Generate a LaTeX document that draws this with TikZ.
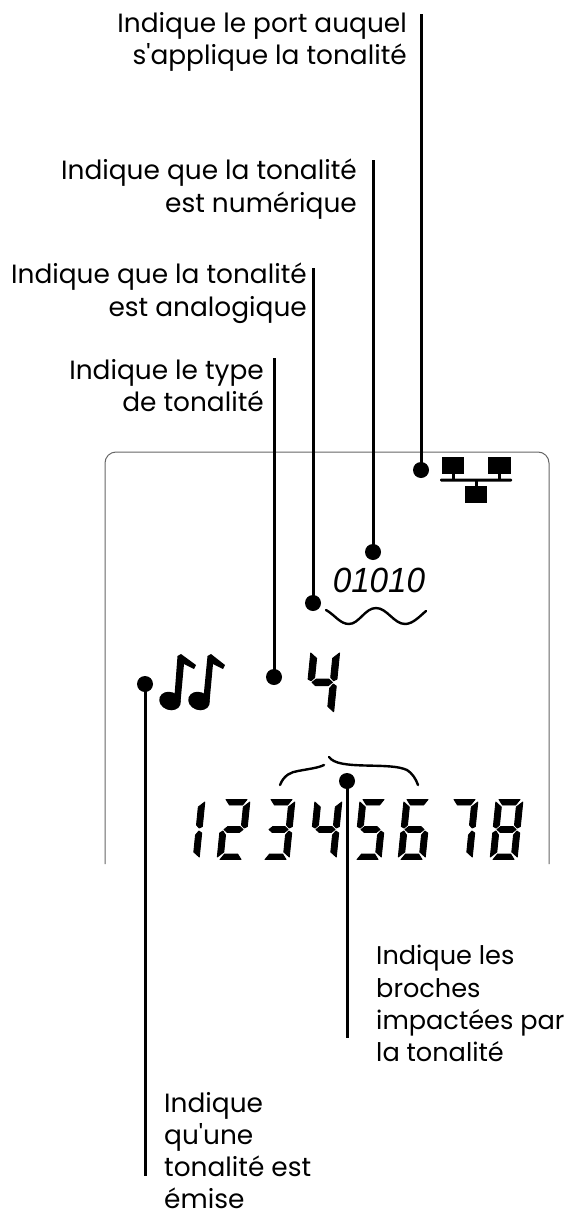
\documentclass[tikz,border=0pt]{standalone}
\usepackage{fontspec}
\setmainfont{Poppins}[Ligatures=TeXOff]
\newfontfamily\digitfont{Liberation Sans}
\newcommand{\SegA}{\filldraw (3,60.5)--(24,60.5)--(20,55)--(7,55)--cycle;}
\newcommand{\SegB}{\filldraw (27,58)--(21,53)--(21,35)--(24,32)--(27,33.5)--cycle;}
\newcommand{\SegC}{\filldraw (27,3)--(21,8)--(21,25)--(24,29)--(27,27)--cycle;}
\newcommand{\SegD}{\filldraw (3,0.5)--(24,0.5)--(20,6)--(7,6)--cycle;}
\newcommand{\SegE}{\filldraw (0,3)--(6,8)--(6,25)--(3,29)--(0,27)--cycle;}
\newcommand{\SegF}{\filldraw (0,58)--(6,53)--(6,35)--(3,32)--(0,33.5)--cycle;}
\newcommand{\SegG}{\filldraw (4,30.5)--(7.5,33.5)--(19.5,33.5)--(23,30.5)--(19.5,27.5)--(7.5,27.5)--cycle;}
\newcommand{\lcddigit}[4]{\begin{scope}[shift={(#1,#2)},x=#3pt,y=#3pt,xslant=0.1,line width=0.9pt,line join=round]#4\end{scope}}
\tikzset{
  label text/.style={font=\fontsize{26.4}{32.6}\selectfont,inner sep=0pt,text=black},
  right label/.style={label text,align=right,anchor=north east},
  left label/.style={label text,align=left,anchor=north west},
  dot/.style={circle,fill=black,inner sep=0pt,minimum size=16pt},
  leader/.style={draw=black,line width=3pt},
  frame/.style={draw=black!60,line width=1pt},
}
\begin{document}
\begin{tikzpicture}[x=1pt,y=-1pt]
\useasboundingbox (0,0) rectangle (565,1209);
% labels
\node[right label] (t1) at (407,12) {Indique le port auquel\\s'applique la tonalité};
\node[right label] (t2) at (357,159) {Indique que la tonalité\\est numérique};
\node[right label] (t3) at (307,263) {Indique que la tonalité\\est analogique};
\node[right label] (t4) at (264,359) {Indique le type\\de tonalité};
\node[left label,font=\fontsize{25.6}{32.4}\selectfont] (t5) at (376,945) {Indique les\\broches\\impactées par\\la tonalité};
\node[left label,font=\fontsize{26.4}{32.2}\selectfont] (t6) at (164,1092) {Indique\\qu'une\\tonalité est\\émise};
% frame
\draw[frame,rounded corners=11pt] (105,864)--(105,452)--(549,452)--(549,864);
% dots
\node[dot] (d1) at (421,470) {};
\node[dot] (d2) at (373,552) {};
\node[dot] (d3) at (313,603) {};
\node[dot] (d4) at (274,677) {};
\node[dot] (d5) at (145,684) {};
\node[dot] (d6) at (347,781) {};
\coordinate (e1) at (421,14);
\coordinate (e2) at (373,160);
\coordinate (e3) at (313,268);
\coordinate (e4) at (274,358);
\coordinate (e5) at (145,1176);
\coordinate (e6) at (347,1038);
\draw[leader] (d1.center)--(e1);
\draw[leader] (d2.center)--(e2);
\draw[leader] (d3.center)--(e3);
\draw[leader] (d4.center)--(e4);
\draw[leader] (d5.center)--(e5);
\draw[leader] (d6.center)--(e6);
% network icon
\fill (442,457) rectangle (464,474);
\fill (488,457) rectangle (511,474);
\fill (465,486) rectangle (487,503);
\fill[rounded corners=1pt] (440,478.7) rectangle (512,481.5);
\fill (452,474) rectangle (454.6,480);
\fill (498,474) rectangle (500.6,480);
\fill (475,480) rectangle (477.6,486);
% 01010 and wave
\node[font=\digitfont\itshape\fontsize{35}{35}\selectfont,inner sep=0pt,xscale=0.95] (bits) at (379,580) {01010};
\draw[line width=2.4pt,line cap=round] (326,610) .. controls (335,615) and (340,624) .. (349,624) .. controls (359,624) and (365,608) .. (376,608) .. controls (387,608) and (394,624) .. (405,624) .. controls (413,624) and (420,616) .. (426,611);
% notes
\fill[rotate around={-20:(170,701)}] (170,701) ellipse (11 and 9);
\fill (174,702)--(177.5,656)--(181,654)--(196,665)--(194,669)--(184,664)--(180.5,702)--cycle;
\fill[rotate around={-20:(199,701)}] (199,701) ellipse (11 and 9);
\fill (203,702)--(207.5,656)--(211,654)--(225,665)--(223,669)--(213,664)--(209.5,702)--cycle;
% big 4
\lcddigit{304.5}{715}{1.07}{\SegF\SegB\SegG\SegC}
% lower digits
\lcddigit{172}{860}{1}{\SegB\SegC}
\lcddigit{217}{860}{1}{\SegA\SegB\SegG\SegE\SegD}
\lcddigit{262}{860}{1}{\SegA\SegB\SegG\SegC\SegD}
\lcddigit{309}{860}{1}{\SegF\SegB\SegG\SegC}
\lcddigit{354}{860}{1}{\SegA\SegF\SegG\SegC\SegD}
\lcddigit{398}{860}{1}{\SegA\SegF\SegG\SegE\SegC\SegD}
\lcddigit{445}{860}{1}{\SegA\SegB\SegC}
\lcddigit{490}{860}{1}{\SegA\SegB\SegC\SegD\SegE\SegF\SegG}
% brace
\draw[line width=2.4pt,line cap=round] (280,785) .. controls (284,775) and (291,772) .. (298,771) .. controls (308,769) and (318,768) .. (324,765);
\draw[line width=2.4pt,line cap=round] (329,757) .. controls (334,764) and (348,765) .. (365,765.5) .. controls (385,766) and (398,766) .. (407,770) .. controls (412,773) and (416,779) .. (418,785);
\end{tikzpicture}
\end{document}
